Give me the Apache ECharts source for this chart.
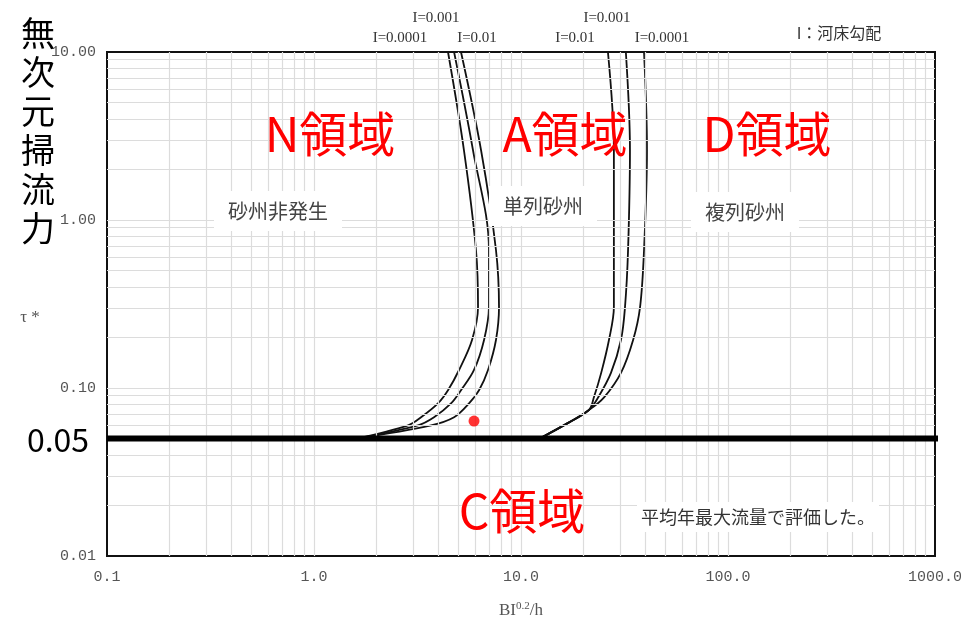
<!DOCTYPE html>
<html><head><meta charset="utf-8">
<script src="https://cdn.jsdelivr.net/npm/echarts/dist/echarts.min.js"></script>
<style>html,body{margin:0;padding:0;background:#fff}#c{width:961px;height:618px}</style>
</head><body><div id="c"></div>
<script>
// Boundary curves (x = BI^0.2/h, y = tau*)
const leftI0001 = [[4.44,10],[5.30,2.61],[6.06,0.663],[6.20,0.303],[5.80,0.193],[5.02,0.128],[4.44,0.097],[3.97,0.081],[3.29,0.067],[2.85,0.060],[1.6,0.05]];
const leftI001  = [[4.75,10],[5.86,2.61],[7.00,0.663],[7.00,0.303],[6.63,0.193],[5.93,0.128],[5.13,0.097],[4.59,0.081],[3.80,0.067],[3.18,0.060],[1.6,0.05]];
const leftI01   = [[5.13,10],[6.41,2.61],[7.57,0.663],[7.83,0.303],[7.57,0.193],[6.93,0.128],[6.27,0.097],[5.61,0.081],[4.75,0.067],[3.68,0.060],[1.6,0.05]];
const rightI01   = [[26.3,10],[28.1,2.61],[28.1,0.663],[28.1,0.303],[26.6,0.193],[24.4,0.123],[22.5,0.088],[21.3,0.074],[16.9,0.062],[12.3,0.05]];
const rightI001  = [[32.1,10],[33.6,2.61],[32.9,0.663],[31.8,0.303],[30.4,0.193],[27.2,0.123],[23.6,0.088],[21.3,0.074],[16.9,0.062],[12.3,0.05]];
const rightI0001 = [[39.3,10],[40.6,2.61],[39.3,0.663],[37.6,0.303],[34.8,0.193],[30.4,0.123],[25.2,0.088],[21.3,0.074],[16.9,0.062],[12.3,0.05]];
const obsPoint = [[5.93,0.0636]];
const criticalTau = 0.05;
const criticalLine = [[0.1,criticalTau],[1090,criticalTau]];
const xMin = 0.1, xMax = 1000, yMin = 0.01, yMax = 10;
const gridX = [0.2,0.3,0.4,0.5,0.6,0.7,0.8,0.9,1,2,3,4,5,6,7,8,9,10,20,30,40,50,60,70,80,90,100,200,300,400,500,600,700,800,900];
const gridY = [0.02,0.03,0.04,0.06,0.07,0.08,0.09,0.1,0.2,0.3,0.4,0.5,0.6,0.7,0.8,0.9,1,2,3,4,5,6,7,8,9];

const chart = echarts.init(document.getElementById('c'));
const curveStyle = {color:'#111', width:1.8};
function curve(name, data){
  return {name, type:'line', data, smooth:0.35, showSymbol:false, symbol:'none', lineStyle:curveStyle, z:3, silent:true};
}
const mono = '"Liberation Mono", monospace';
const serif = '"Liberation Serif", serif';
const jp = '"Noto Sans CJK JP", sans-serif';
function txt(text, x, y, font, fill, extra){
  return Object.assign({type:'text', z:10, style:Object.assign({text, x, y, font, fill, align:'center', verticalAlign:'middle'}, extra||{})});
}
chart.setOption({
  animation:false,
  grid:{left:107, right:26, top:52, bottom:62, outerBoundsMode:'none', containLabel:false, show:true, borderColor:'#111', borderWidth:2, backgroundColor:'transparent'},
  xAxis:{type:'log', logBase:10, min:xMin, max:xMax,
    axisLine:{show:true, lineStyle:{color:'#111', width:2}},
    axisTick:{show:true, inside:true, length:5, lineStyle:{color:'#111'}},
    splitLine:{show:false},
    axisLabel:{formatter:v=>Number(v).toFixed(1), color:'#555', fontFamily:mono, fontSize:15, margin:14},
    name:'{a|BI}{s|0.2}{a|/h}', nameLocation:'middle', nameGap:45,
    nameTextStyle:{rich:{a:{fontFamily:serif, fontSize:17, color:'#555'}, s:{fontFamily:serif, fontSize:11, color:'#555', verticalAlign:'top', padding:[0,0,9,0]}}}
  },
  yAxis:{type:'log', logBase:10, min:yMin, max:yMax,
    axisLine:{show:true, lineStyle:{color:'#111', width:2}},
    axisTick:{show:false},
    splitLine:{show:false},
    axisLabel:{formatter:v=>Number(v).toFixed(2), color:'#555', fontFamily:mono, fontSize:15, margin:11}
  },
  series:[
    {type:'line', data:[[1,1]], showSymbol:false, symbol:'none', lineStyle:{opacity:0}, silent:true, z:0,
      markLine:{silent:true, symbol:'none', label:{show:false}, animation:false,
        lineStyle:{color:'#dcdcdc', type:'solid', width:1.2},
        data:gridX.map(v=>({xAxis:v})).concat(gridY.map(v=>({yAxis:v})))}},
    {type:'line', data:criticalLine, showSymbol:false, symbol:'none', clip:false, lineStyle:{color:'#000', width:6}, z:5, silent:true},
    curve('I=0.0001 L', leftI0001), curve('I=0.001 L', leftI001), curve('I=0.01 L', leftI01),
    curve('I=0.01 R', rightI01), curve('I=0.001 R', rightI001), curve('I=0.0001 R', rightI0001),
    {type:'scatter', data:obsPoint, symbolSize:11, itemStyle:{color:'#ff0000'}, z:6, silent:true}
  ],
  graphic:[
    txt('無\n次\n元\n掃\n流\n力', 38, 131, '34px '+jp, '#000', {lineHeight:39}),
    txt('τ *', 30, 318, '17px '+serif, '#555'),
    txt('0.05', 58, 440, '32px '+jp, '#000'),
    txt('I=0.001', 436, 18, '15px '+serif, '#333'),
    txt('I=0.0001', 400, 38, '15px '+serif, '#333'),
    txt('I=0.01', 477, 38, '15px '+serif, '#333'),
    txt('I=0.001', 607, 18, '15px '+serif, '#333'),
    txt('I=0.01', 575, 38, '15px '+serif, '#333'),
    txt('I=0.0001', 662, 38, '15px '+serif, '#333'),
    txt('I：河床勾配', 839, 33, '16px '+jp, '#333'),
    txt('N領域', 330, 134, '48px '+jp, '#ff0000'),
    txt('A領域', 565, 134, '48px '+jp, '#ff0000'),
    txt('D領域', 767, 134, '48px '+jp, '#ff0000'),
    txt('C領域', 522, 511, '48px '+jp, '#ff0000'),
    txt('砂州非発生', 278, 211, '20px '+jp, '#444', {backgroundColor:'#fff', padding:[10,14,10,14]}),
    txt('単列砂州', 543, 206, '20px '+jp, '#444', {backgroundColor:'#fff', padding:[10,14,10,14]}),
    txt('複列砂州', 745, 212, '20px '+jp, '#444', {backgroundColor:'#fff', padding:[10,14,10,14]}),
    txt('平均年最大流量で評価した。', 758, 517, '18px '+jp, '#333', {backgroundColor:'#fff', padding:[6,4,6,4]})
  ]
});
</script></body></html>
